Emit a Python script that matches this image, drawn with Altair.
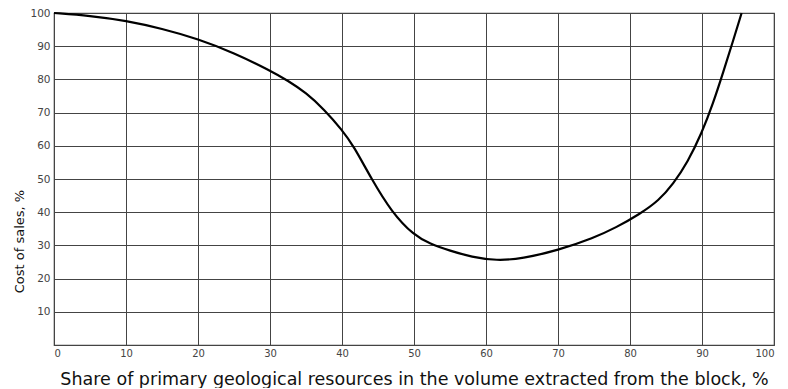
import altair as alt
import pandas as pd

share = [0, 5, 10, 15, 20, 25, 30, 32.5, 35, 37.5, 40, 41.6, 44.1, 46.9, 50, 52.2, 55, 58, 61.5, 65, 70, 75, 78, 81.4, 84, 86, 88, 90, 91.5, 93, 94.3, 95.5]
cost = [100, 99.2, 97.7, 95.3, 92.2, 88.0, 82.7, 79.6, 76.0, 71.0, 64.8, 60.0, 50.0, 40.0, 33.0, 30.5, 28.4, 26.5, 25.4, 26.0, 28.5, 32.3, 35.3, 39.5, 43.5, 48.5, 55.0, 64.0, 72.5, 82.5, 91.5, 100.0]

x_ticks = [0, 10, 20, 30, 40, 50, 60, 70, 80, 90, 100]
y_ticks = [10, 20, 30, 40, 50, 60, 70, 80, 90, 100]

df = pd.DataFrame({"share": share, "cost": cost})

FONT = "DejaVu Sans"

chart = alt.Chart(df).mark_line(color="black", strokeWidth=2.2, interpolate="basis").encode(
    x=alt.X("share:Q", scale=alt.Scale(domain=[0, 100], nice=False),
            axis=alt.Axis(values=x_ticks, title="Share of primary geological resources in the volume extracted from the block, %",
                          grid=True, gridColor="#444", gridWidth=1, domain=False, ticks=False,
                          labelFontSize=10, labelColor="#444", labelPadding=3,
                          titleFontSize=17.5, titleFontWeight="normal", titleColor="#111",
                          titleY=39, titleBaseline="alphabetic",
                          labelFont=FONT, titleFont=FONT)),
    y=alt.Y("cost:Q", scale=alt.Scale(domain=[0, 100], nice=False),
            axis=alt.Axis(values=y_ticks, title="Cost of sales, %",
                          grid=True, gridColor="#444", gridWidth=1, domain=False, ticks=False,
                          labelFontSize=10.5, labelColor="#444", labelPadding=4,
                          titleFontSize=13, titleFontWeight="normal", titleColor="#111",
                          titleX=-35, titleY=228, titleAngle=270, titleAlign="center", titleBaseline="middle",
                          labelFont=FONT, titleFont=FONT)),
).properties(
    width=720, height=332,
    autosize=alt.AutoSizeParams(type="none"),
    padding={"left": 46, "top": 5, "right": 6, "bottom": 43},
).configure_view(stroke="#444", strokeWidth=1.2)

chart.save("out.html", embed_options={"renderer": "svg", "actions": False})
